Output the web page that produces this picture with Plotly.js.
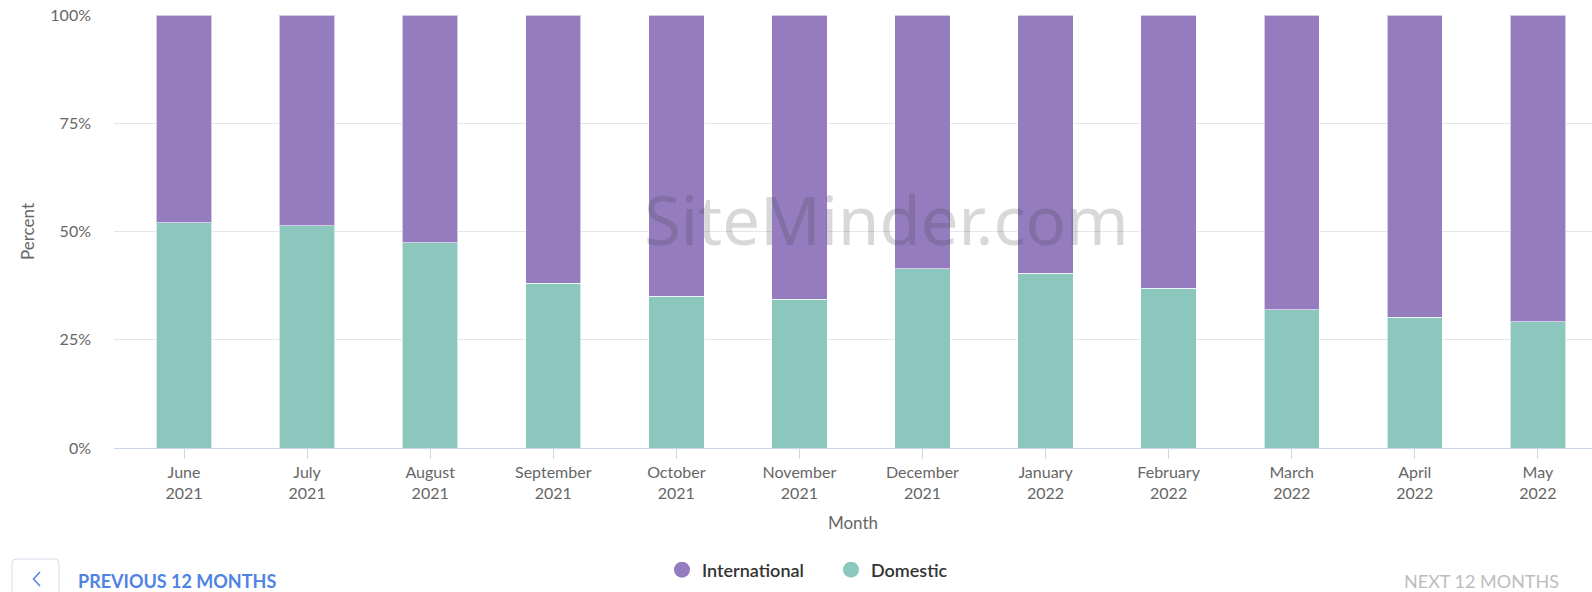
<!DOCTYPE html>
<html>
<head>
<meta charset="utf-8">
<script src="https://cdn.plot.ly/plotly-3.0.1.min.js"></script>
<style>
  html, body { margin: 0; padding: 0; background: #fff; }
  #chart { width: 1592px; height: 592px; }
</style>
</head>
<body>
<div id="chart"></div>
<script>
// ---- data ----
const months = ["June", "July", "August", "September", "October", "November", "December", "January", "February", "March", "April", "May"];
const years = ["2021", "2021", "2021", "2021", "2021", "2021", "2021", "2022", "2022", "2022", "2022", "2022"];
const domestic = [52.0, 51.3, 47.4, 38.0, 35.1, 34.4, 41.4, 40.4, 36.9, 31.9, 30.2, 29.2];
const international = [48.0, 48.7, 52.6, 62.0, 64.9, 65.6, 58.6, 59.6, 63.1, 68.1, 69.8, 70.8];
const yTickVals = [0, 25, 50, 75, 100];
const yTickText = ["0%", "25%", "50%", "75%", "100%"];

const categories = months.map((m, i) => m + "<br>" + years[i]);

const PURPLE = "#947cbf";
const TEAL = "#8bc7bc";
const FONT = "Lato, 'Open Sans', sans-serif";

// plot area geometry (pixels) for placing page UI
const L = 114, T = 15, W = 1478, H = 433;
const px = x => (x - L) / W;
const py = y => (T + H - y) / H;

const traces = [
  {
    type: "bar", name: "Domestic", x: categories, y: domestic,
    marker: { color: TEAL, line: { color: "rgba(255,255,255,0.6)", width: 1 } },
    width: 0.45, showlegend: false, hoverinfo: "x+y"
  },
  {
    type: "bar", name: "International", x: categories, y: international,
    marker: { color: PURPLE, line: { color: "rgba(255,255,255,0.6)", width: 1 } },
    width: 0.45, showlegend: false, hoverinfo: "x+y"
  },
  // legend entries (circle symbols)
  {
    type: "scatter", mode: "markers", name: "International", x: [null], y: [null],
    marker: { color: PURPLE, size: 16, symbol: "circle" }, showlegend: true, hoverinfo: "skip"
  },
  {
    type: "scatter", mode: "markers", name: "Domestic", x: [null], y: [null],
    marker: { color: TEAL, size: 16, symbol: "circle" }, showlegend: true, hoverinfo: "skip"
  }
];

const layout = {
  width: 1592, height: 592,
  margin: { l: L, r: 0, t: T, b: 592 - T - H },
  paper_bgcolor: "#fff", plot_bgcolor: "#fff",
  barmode: "stack",
  font: { family: FONT, color: "#666666", size: 16 },
  showlegend: true,
  legend: {
    orientation: "h", x: px(831), xanchor: "center", y: py(570), yanchor: "middle",
    font: { family: FONT, size: 18, color: "#333333", weight: 600 },
    itemsizing: "trace", traceorder: "normal", itemwidth: 30,
    entrywidth: 124, entrywidthmode: "pixels"
  },
  xaxis: {
    type: "category",
    range: [-0.569, 11.44],
    showgrid: false,
    showline: true, linecolor: "#ccd6eb", linewidth: 1,
    ticks: "outside", ticklen: 10, tickcolor: "#ccd6eb",
    tickfont: { family: FONT, size: 16, color: "#666666" },
    title: { text: "Month", font: { family: FONT, size: 17, color: "#666666" }, standoff: 16 },
    fixedrange: true
  },
  yaxis: {
    range: [0, 100],
    tickvals: yTickVals, ticktext: yTickText,
    showgrid: true, gridcolor: "#e6e6e6", gridwidth: 1,
    zeroline: false, showline: false,
    ticklabelstandoff: 22,
    tickfont: { family: FONT, size: 16, color: "#666666" },
    title: { text: "Percent", font: { family: FONT, size: 17, color: "#666666" }, standoff: 11 },
    fixedrange: true
  },
  annotations: [
    {
      text: "SiteMinder.com", xref: "paper", yref: "paper",
      x: px(886), y: py(219), xanchor: "center", yanchor: "middle", showarrow: false,
      font: { family: "'Noto Sans', sans-serif", size: 67, color: "rgba(60,60,60,0.2)" }
    },
    {
      text: "PREVIOUS 12 MONTHS", xref: "paper", yref: "paper",
      x: px(76), y: py(581), xanchor: "left", yanchor: "middle", showarrow: false,
      font: { family: FONT, size: 18, color: "#4f83e3", weight: 700 }
    },
    {
      text: "NEXT 12 MONTHS", xref: "paper", yref: "paper",
      x: px(1561), y: py(581), xanchor: "right", yanchor: "middle", showarrow: false,
      font: { family: FONT, size: 18, color: "#bdbdbd", weight: 400 }
    }
  ],
  shapes: [
    {
      type: "path", xref: "paper", yref: "paper",
      path: `M ${px(12)} ${py(598)} L ${px(12)} ${py(563)} Q ${px(12)} ${py(559)} ${px(16)} ${py(559)} L ${px(55)} ${py(559)} Q ${px(59)} ${py(559)} ${px(59)} ${py(563)} L ${px(59)} ${py(598)}`,
      line: { color: "#d5dbe8", width: 1 }
    },
    {
      type: "path", xref: "paper", yref: "paper",
      path: `M ${px(40)} ${py(572)} L ${px(33.5)} ${py(579)} L ${px(40)} ${py(586)}`,
      line: { color: "#4f83e3", width: 1.5 }
    }
  ]
};

Plotly.newPlot("chart", traces, layout, { displayModeBar: false, staticPlot: true });
</script>
</body>
</html>
